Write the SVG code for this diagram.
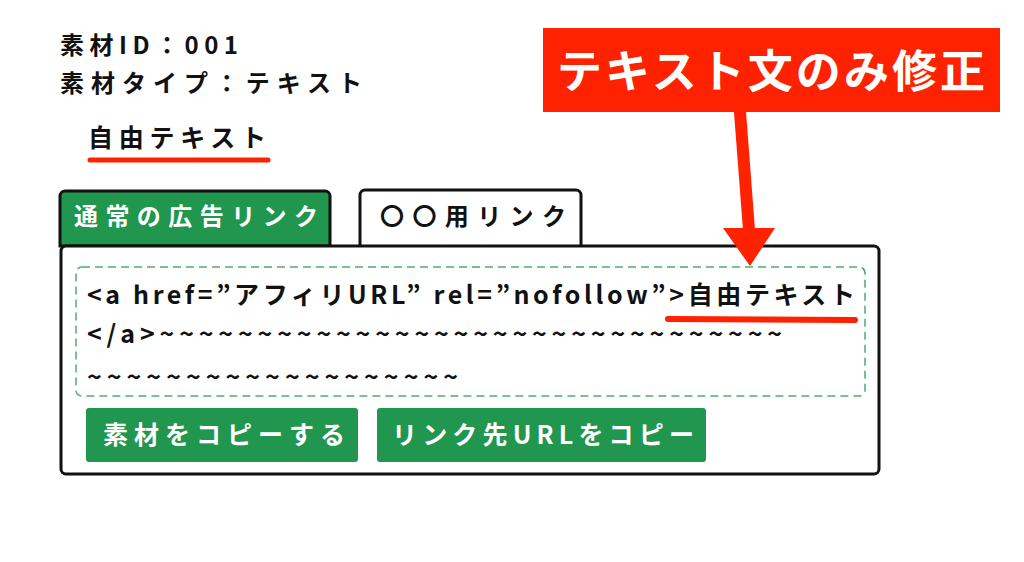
<svg xmlns="http://www.w3.org/2000/svg" width="1024" height="562" viewBox="0 0 1024 562">
<style>
text{font-family:"Noto Sans CJK JP","Noto Sans",sans-serif;font-weight:bold;fill:#111}
.w{fill:#fff}
.red{stroke:#ff2200;stroke-linecap:round;fill:none}
.btn{fill:#21964e}
</style>
<rect width="1024" height="562" fill="#fff"/>
<g id="header">
<text x="60" y="54" font-size="24" textLength="178">素材ID：001</text>
<text x="60" y="92" font-size="24" textLength="302">素材タイプ：テキスト</text>
<text x="88" y="147" font-size="25" textLength="178">自由テキスト</text>
<path class="red" d="M90 160 L268 160" stroke-width="5"/>
</g>
<g id="tab1"><path d="M60 246 V196 a5 5 0 0 1 5-5 H325 a5 5 0 0 1 5 5 V246 Z" class="btn" stroke="#111" stroke-width="3"/><text x="74" y="225" font-size="24" class="w" textLength="244">通常の広告リンク</text></g>
<g id="tab2"><path d="M360 246 V195 a5 5 0 0 1 5-5 H576 a5 5 0 0 1 5 5 V246" fill="#fff" stroke="#111" stroke-width="3"/><text x="380" y="225" font-size="24" textLength="186">〇〇用リンク</text></g>
<g id="panel">
<rect x="61" y="246" width="818" height="228" rx="5" fill="#fff" stroke="#111" stroke-width="3"/>
<rect x="76" y="267" width="789" height="129" rx="6" fill="none" stroke="#4caf6e" stroke-width="1.5" stroke-dasharray="8 5"/>
<text x="87" y="304" font-size="25" textLength="768">&lt;a href=”アフィリURL” rel=”nofollow”&gt;自由テキスト</text>
<text x="87" y="343" font-size="25" textLength="695">&lt;/a&gt;~~~~~~~~~~~~~~~~~~~~~~~~~~~~~~~~</text>
<text x="87" y="386" font-size="25" textLength="371">~~~~~~~~~~~~~~~~~~~</text>
<path class="red" d="M668 319 L855 320" stroke-width="6"/>
</g>
<g id="btn1"><rect x="86" y="408" width="272" height="54" rx="3" class="btn"/><text x="103" y="444" font-size="25" class="w" textLength="242">素材をコピーする</text></g>
<g id="btn2"><rect x="377" y="408" width="329" height="54" rx="3" class="btn"/><text x="392" y="444" font-size="25" class="w" textLength="302">リンク先URLをコピー</text></g>
<g id="callout"><rect x="543" y="28" width="457" height="84" fill="#ff2200"/><text x="557" y="88" font-size="45" class="w" textLength="428">テキスト文のみ修正</text></g>
<g id="connectors">
<path class="red" d="M740 112 L749 230" stroke-width="12"/>
<path d="M723 228 L775 228 L750 266 Z" fill="#ff2200"/>
</g>
</svg>
